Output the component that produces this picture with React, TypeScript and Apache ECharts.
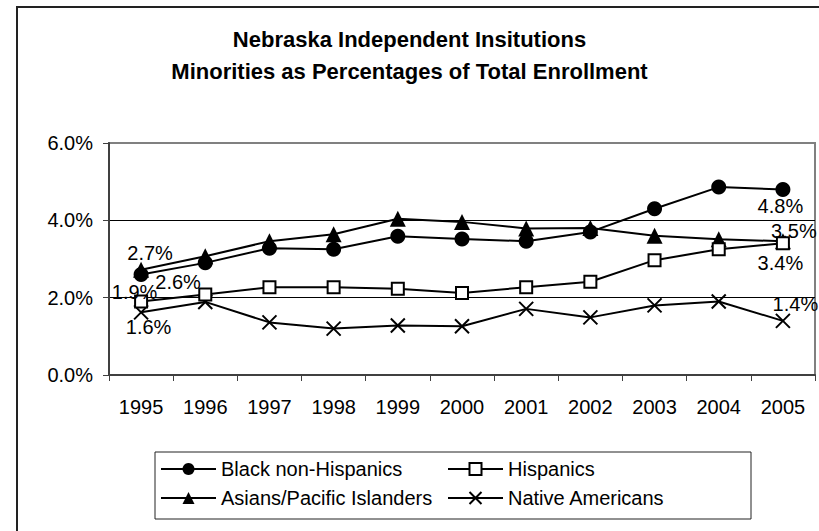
import React, { useEffect, useRef } from "react";
import * as echarts from "echarts";

const years = ["1995", "1996", "1997", "1998", "1999", "2000", "2001", "2002", "2003", "2004", "2005"];
const blackNonHispanics = [2.6, 2.9, 3.28, 3.25, 3.59, 3.52, 3.46, 3.7, 4.3, 4.86, 4.8];
const hispanics = [1.9, 2.08, 2.27, 2.27, 2.23, 2.12, 2.27, 2.41, 2.97, 3.25, 3.41];
const asiansPacific = [2.72, 3.07, 3.46, 3.64, 4.04, 3.96, 3.79, 3.8, 3.6, 3.51, 3.46];
const nativeAmericans = [1.62, 1.89, 1.36, 1.2, 1.28, 1.26, 1.71, 1.49, 1.8, 1.9, 1.4];
const yTicks = [0, 2, 4, 6];

const FONT = "'Liberation Sans', Arial, sans-serif";

function withEndLabels(values: number[], firstOffset: number[], lastOffset: number[]) {
  return values.map((v, i) => {
    if (i === 0 || i === values.length - 1) {
      return {
        value: v,
        label: {
          show: true,
          position: "inside",
          offset: i === 0 ? firstOffset : lastOffset,
          formatter: (p: any) => p.value.toFixed(1) + "%",
          fontSize: 20,
          fontFamily: FONT,
          color: "#000",
        },
      };
    }
    return v;
  });
}

export default function App() {
  const ref = useRef<HTMLDivElement>(null);
  useEffect(() => {
    if (!ref.current) return;
    const chart = echarts.init(ref.current, undefined, { renderer: "svg" });
    const lineStyle = { color: "#000", width: 2 };
    const legendCommon = {
      orient: "vertical",
      top: 458,
      itemWidth: 55,
      itemHeight: 15,
      itemGap: 7,
      padding: 0,
      selectedMode: false,
      textStyle: { fontSize: 20, fontFamily: FONT, color: "#000", lineHeight: 22 },
    };
    chart.setOption({
      animation: false,
      backgroundColor: "#fff",
      title: {
        text: "Nebraska Independent Insitutions\nMinorities as Percentages of Total Enrollment",
        left: "center",
        top: 18,
        textStyle: { fontSize: 22, fontWeight: "bold", fontFamily: FONT, color: "#000", lineHeight: 32 },
      },
      grid: {
        left: 109,
        top: 143,
        width: 706,
        height: 232,
        show: true,
        borderColor: "#808080",
        borderWidth: 2,
        backgroundColor: "#fff",
      },
      legend: [
        { ...legendCommon, left: 160, data: ["Black non-Hispanics", "Asians/Pacific Islanders"] },
        { ...legendCommon, left: 447, data: ["Hispanics", "Native Americans"] },
      ],
      graphic: [
        {
          type: "rect",
          shape: { x: 17, y: 7, width: 900, height: 600 },
          style: { fill: "none", stroke: "#222", lineWidth: 2 },
          silent: true,
        },
        {
          type: "rect",
          shape: { x: 155, y: 452, width: 596, height: 67 },
          style: { fill: "none", stroke: "#222", lineWidth: 1 },
          silent: true,
        },
      ],
      xAxis: {
        type: "category",
        data: years,
        boundaryGap: true,
        axisLine: { show: true, lineStyle: { color: "#404040", width: 2 } },
        axisTick: { show: true, length: 6, lineStyle: { color: "#404040", width: 1 } },
        axisLabel: { fontSize: 20, fontFamily: FONT, color: "#000", margin: 22 },
        splitLine: { show: false },
      },
      yAxis: {
        type: "value",
        min: yTicks[0],
        max: yTicks[yTicks.length - 1],
        interval: 2,
        axisLine: { show: true, lineStyle: { color: "#404040", width: 2 } },
        axisTick: { show: true, length: 6, lineStyle: { color: "#404040", width: 1 } },
        axisLabel: {
          fontSize: 20,
          fontFamily: FONT,
          color: "#000",
          margin: 16,
          formatter: (v: number) => v.toFixed(1) + "%",
        },
        splitLine: {
          show: true,
          lineStyle: { color: ["rgba(0,0,0,0)", "#000", "#000", "rgba(0,0,0,0)"], width: 1 },
        },
      },
      series: [
        {
          name: "Black non-Hispanics",
          type: "line",
          data: withEndLabels(blackNonHispanics, [37, 8], [-2.5, 16.6]),
          symbol: "circle",
          symbolSize: 15,
          itemStyle: { color: "#000" },
          lineStyle,
          z: 4,
        },
        {
          name: "Hispanics",
          type: "line",
          data: withEndLabels(hispanics, [-6.5, -9.5], [-2.5, 20]),
          symbol: "rect",
          symbolSize: 12,
          itemStyle: { color: "#fff", borderColor: "#000", borderWidth: 2 },
          lineStyle,
          z: 3,
        },
        {
          name: "Asians/Pacific Islanders",
          type: "line",
          data: withEndLabels(asiansPacific, [9, -17], [11, -10]),
          symbol: "triangle",
          symbolSize: 16,
          itemStyle: { color: "#000" },
          lineStyle,
          z: 2,
        },
        {
          name: "Native Americans",
          type: "line",
          data: withEndLabels(nativeAmericans, [7.5, 14.6], [12.5, -17]),
          symbol: "path://M0,0L10,10M10,0L0,10",
          symbolSize: 14,
          itemStyle: { color: "rgba(0,0,0,0)", borderColor: "#000", borderWidth: 2 },
          lineStyle,
          z: 2,
        },
      ],
    });
    return () => chart.dispose();
  }, []);
  return (
    <div
      ref={ref}
      style={{ position: "fixed", left: 0, top: 0, width: 819, height: 531, background: "#fff" }}
    />
  );
}
